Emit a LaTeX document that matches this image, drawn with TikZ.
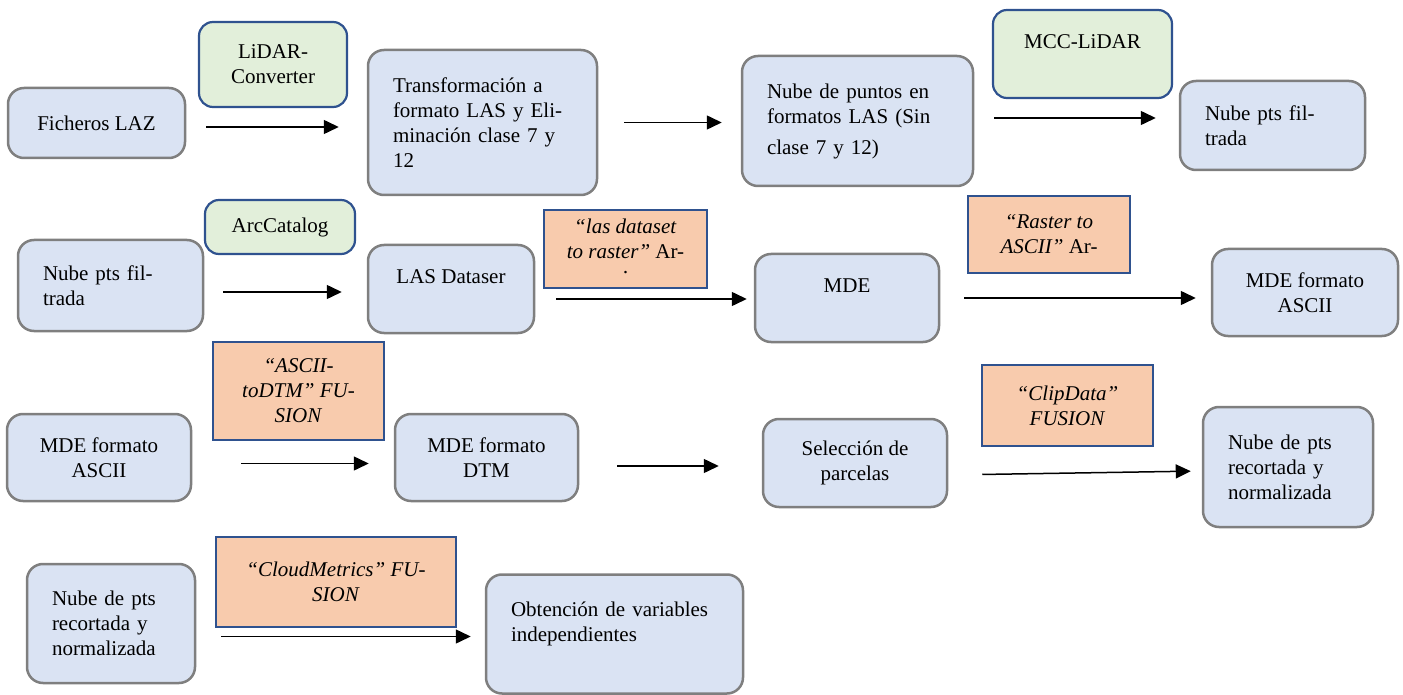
\documentclass[tikz,border=0pt]{standalone}
\usepackage{fontspec}
\setmainfont{Liberation Serif}
\usetikzlibrary{arrows.meta}

\definecolor{azulcaja}{HTML}{DAE3F3}
\definecolor{grisborde}{HTML}{7F7F7F}
\definecolor{verdecaja}{HTML}{E2EFDA}
\definecolor{naranjacaja}{HTML}{F8CBAD}
\definecolor{azulborde}{HTML}{2F528F}

\tikzset{
  caja/.style={draw=grisborde, fill=azulcaja, line width=2.5pt, rounded corners=16pt, align=center, inner sep=0pt},
  cajaizq/.style={caja, align=left},
  verde/.style={draw=azulborde, fill=verdecaja, line width=2.2pt, rounded corners=14pt, align=center, inner sep=0pt},
  naranja/.style={draw=azulborde, fill=naranjacaja, line width=2pt, align=center, inner sep=0pt},
  flecha/.style={line width=1.5pt, -{Triangle[length=15pt,width=14pt]}}
}

\begin{document}
\begin{tikzpicture}[x=1pt, y=-1pt, every node/.style={font=\fontsize{21}{25}\selectfont}]
            \useasboundingbox (0,0) rectangle (1403,695);
            % fila 1
            \node[caja, minimum width=177pt, minimum height=70pt] (laz) at (96.5,123) {Ficheros LAZ};
            \node[verde, minimum width=148pt, minimum height=85pt] (lidarconv) at (273,64.5) {LiDAR-\\Converter};
            \node[cajaizq, minimum width=229pt, minimum height=145pt, text width=179pt] (trans) at (482.5,122.5) {Transformación a\\formato LAS y Eli-\\minación clase 7 y\\12};
            \node[cajaizq, minimum width=231pt, minimum height=130pt, text width=181pt] (nubelas) at (857.5,121) {Nube de puntos en\\formatos LAS (Sin\\[6pt]clase 7 y 12)};
            \node[verde, minimum width=179pt, minimum height=88pt] (mcc) at (1082.5,54) {MCC-LiDAR\\\mbox{}};
            \node[cajaizq, minimum width=185pt, minimum height=89pt, text width=135pt] (filtrada) at (1272.5,125.5) {Nube pts fil-\\trada};
            \draw[flecha, shorten <=20pt, shorten >=28pt] ([yshift=-4pt]laz.east) -- ([yshift=-4pt]laz.east -| trans.west);
            \draw[flecha, shorten <=26pt, shorten >=19pt] (trans.east) -- (trans.east -| nubelas.west);
            \draw[flecha, shorten <=20pt, shorten >=23pt] ([yshift=3pt]nubelas.east) -- ([yshift=3pt]nubelas.east -| filtrada.west);
            % fila 2
            \node[cajaizq, minimum width=185pt, minimum height=91pt, text width=135pt] (filtrada2) at (110.5,285.5) {Nube pts fil-\\trada};
            \node[verde, minimum width=150pt, minimum height=54pt] (arccat) at (280,227) {ArcCatalog};
            \node[caja, minimum width=166pt, minimum height=88pt] (lasdataset) at (451,289) {LAS Dataser\\\mbox{}};
            \node[naranja, minimum width=163pt, minimum height=78pt] (lasraster) at (625.5,249) {\textit{“las dataset}\\\textit{to raster”} Ar-\\[-4pt]·};
            \node[caja, minimum width=184pt, minimum height=88pt] (mde) at (847,298) {MDE\\\mbox{}};
            \node[naranja, minimum width=162pt, minimum height=77pt] (rasterascii) at (1049,234.5) {\textit{“Raster to}\\\textit{ASCII”} Ar-};
            \node[caja, minimum width=186pt, minimum height=87pt] (ascii) at (1305,292.5) {MDE formato\\ASCII};
            \draw[flecha, shorten <=19pt, shorten >=25pt] ([yshift=-6.5pt]filtrada2.east) -- ([yshift=-6.5pt]filtrada2.east -| lasdataset.west);
            \draw[flecha, shorten <=21pt, shorten >=7pt] ([yshift=-10pt]lasdataset.east) -- ([yshift=-10pt]lasdataset.east -| mde.west);
            \draw[flecha, shorten <=24pt, shorten >=15pt] (mde.east) -- (mde.east -| ascii.west);
            % fila 3
            \node[caja, minimum width=184pt, minimum height=87pt] (ascii2) at (99,457.5) {MDE formato\\ASCII};
            \node[naranja, minimum width=171pt, minimum height=98pt] (asciidtm) at (298.5,391) {\textit{“ASCII-}\\\textit{toDTM” FU-}\\\textit{SION}};
            \node[caja, minimum width=183pt, minimum height=87pt] (dtm) at (486.5,457.5) {MDE formato\\DTM};
            \node[caja, minimum width=184pt, minimum height=88pt] (parcelas) at (855,463) {Selección de\\parcelas};
            \node[naranja, minimum width=171pt, minimum height=81pt] (clipdata) at (1067.5,405.5) {\textit{“ClipData”}\\\textit{FUSION}};
            \node[cajaizq, minimum width=170pt, minimum height=120pt, text width=120pt] (recortada) at (1288,467) {Nube de pts\\recortada y\\normalizada};
            \draw[flecha, shorten <=49pt, shorten >=25pt] ([yshift=-6pt]ascii2.east) -- ([yshift=-6pt]ascii2.east -| dtm.west);
            \draw[flecha, shorten <=38pt, shorten >=43pt] ([yshift=-8.5pt]dtm.east) -- ([yshift=-8.5pt]dtm.east -| parcelas.west);
            \draw[flecha, shorten <=34pt, shorten >=11pt] ([yshift=-12pt]parcelas.east) -- ([yshift=-4pt]recortada.west);
            % fila 4
            \node[cajaizq, minimum width=168pt, minimum height=119pt, text width=118pt] (recortada2) at (111,623.5) {Nube de pts\\recortada y\\normalizada};
            \node[naranja, minimum width=240pt, minimum height=90pt] (cloudmetrics) at (336,582) {\textit{“CloudMetrics” FU-}\\\textit{SION}};
            \node[cajaizq, minimum width=257pt, minimum height=119pt, text width=207pt] (variables) at (614.5,634) {Obtención de variables\\independientes\\\mbox{}};
            \draw[flecha, shorten <=25pt, shorten >=14pt] ([yshift=-13pt]recortada2.east) -- ([yshift=-13pt]recortada2.east -| variables.west);
\end{tikzpicture}
\end{document}
